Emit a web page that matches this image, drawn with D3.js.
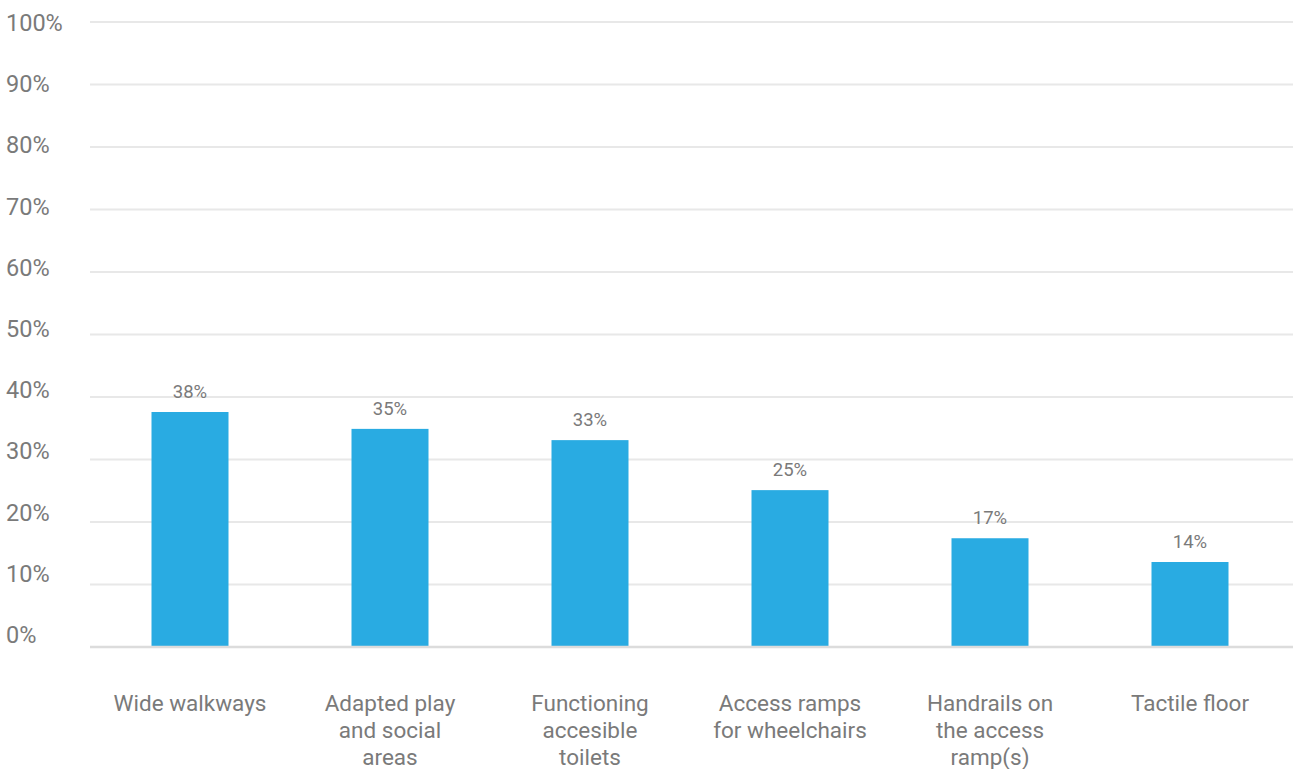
<!DOCTYPE html>
<html>
<head>
<meta charset="utf-8">
<script src="https://cdn.jsdelivr.net/npm/d3@7"></script>
<style>
  html, body { margin: 0; padding: 0; background: #fff; }
  svg { display: block; font-family: Roboto, "Noto Sans", sans-serif; }
</style>
</head>
<body>
<svg id="chart" width="1293" height="769"></svg>
<script>
const categories = [
  "Wide walkways",
  "Adapted play\nand social\nareas",
  "Functioning\naccesible\ntoilets",
  "Access ramps\nfor wheelchairs",
  "Handrails on\nthe access\nramp(s)",
  "Tactile floor"
];
const values = [37.6, 34.9, 33.1, 25.1, 17.4, 13.6];
const valueLabels = ["38%", "35%", "33%", "25%", "17%", "14%"];
const yTicks = [0, 10, 20, 30, 40, 50, 60, 70, 80, 90, 100];

const svg = d3.select("#chart");
const plotLeft = 90, plotRight = 1293, plotTop = 22, plotBottom = 647;

const x = d3.scaleBand()
  .domain(categories)
  .range([90, 1290])
  .paddingInner(0.615)
  .paddingOuter(0.3075);

const y = d3.scaleLinear().domain([0, 100]).range([plotBottom, plotTop]);
// tick labels are spaced slightly tighter than the gridlines
const yLab = d3.scaleLinear().domain([0, 100]).range([643, 31]);

// gridlines
svg.append("g").selectAll("line")
  .data(yTicks.filter(d => d !== 0))
  .join("line")
  .attr("x1", plotLeft).attr("x2", plotRight)
  .attr("y1", d => y(d)).attr("y2", d => y(d))
  .attr("stroke", "#e8e8e8").attr("stroke-width", 2);

// y tick labels
svg.append("g").selectAll("text")
  .data(yTicks)
  .join("text")
  .attr("x", 6)
  .attr("y", d => yLab(d))
  .attr("fill", "#7a7a7a")
  .attr("font-size", 23.5)
  .text(d => d + "%");

// bars
svg.append("g").selectAll("rect")
  .data(categories)
  .join("rect")
  .attr("x", d => x(d))
  .attr("width", x.bandwidth())
  .attr("y", (d, i) => y(values[i]))
  .attr("height", (d, i) => y(0) - y(values[i]))
  .attr("fill", "#29abe2");

// baseline
svg.append("line")
  .attr("x1", plotLeft).attr("x2", plotRight)
  .attr("y1", y(0)).attr("y2", y(0))
  .attr("stroke", "#dcdcdc").attr("stroke-width", 2.5);

// value labels
svg.append("g").selectAll("text")
  .data(categories)
  .join("text")
  .attr("x", d => x(d) + x.bandwidth() / 2)
  .attr("y", (d, i) => y(values[i]) - 14)
  .attr("text-anchor", "middle")
  .attr("fill", "#7a7a7a")
  .attr("font-size", 18.5)
  .text((d, i) => valueLabels[i]);

// x labels
const xl = svg.append("g").selectAll("text")
  .data(categories)
  .join("text")
  .attr("text-anchor", "middle")
  .attr("fill", "#7a7a7a")
  .attr("font-size", 22.5);
xl.each(function(d) {
  const t = d3.select(this);
  const cx = x(d) + x.bandwidth() / 2;
  d.split("\n").forEach((line, j) => {
    t.append("tspan").attr("x", cx).attr("y", 711 + j * 27).text(line);
  });
});
</script>
</body>
</html>
